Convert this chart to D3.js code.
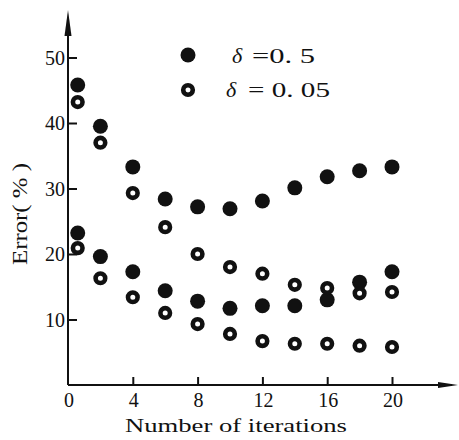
<!DOCTYPE html>
<html><head><meta charset="utf-8">
<script src="https://cdn.jsdelivr.net/npm/d3@7"></script>
<style>body{margin:0;background:#fff}svg{display:block}text{font-family:"Liberation Serif","DejaVu Serif",serif;fill:#111}</style>
</head><body>
<svg id="c" width="459" height="440"></svg>
<script>
const iterations = [0.6, 2, 4, 6, 8, 10, 12, 14, 16, 18, 20];
const filledUpper = [45.8, 39.5, 33.3, 28.4, 27.2, 26.9, 28.1, 30.1, 31.8, 32.7, 33.3];
const filledLower = [23.2, 19.6, 17.3, 14.4, 12.8, 11.7, 12.1, 12.1, 13.0, 15.7, 17.3];
const openUpper = [43.2, 37.0, 29.3, 24.1, 20.0, 18.0, 17.0, 15.3, 14.8, 14.0, 14.2];
const openLower = [20.9, 16.3, 13.4, 11.0, 9.3, 7.8, 6.7, 6.3, 6.3, 6.0, 5.8];
const xTicks = [0, 4, 8, 12, 16, 20];
const yTicks = [10, 20, 30, 40, 50];
const legendValues = ["=0. 5", "= 0. 05"];

const svg = d3.select("#c");
const x = d3.scaleLinear().domain([0, 20]).range([68, 392]);
const y = d3.scaleLinear().domain([0, 50]).range([385, 57.5]);
const ink = "#111";

// axes lines
svg.append("line").attr("x1", x(0)).attr("x2", 452).attr("y1", y(0)).attr("y2", y(0)).attr("stroke", ink).attr("stroke-width", 2);
svg.append("path").attr("d", `M458,${y(0)} L438,${y(0)-3} L438,${y(0)+3} Z`).attr("fill", ink);
svg.append("line").attr("x1", x(0)).attr("x2", x(0)).attr("y1", y(0)).attr("y2", 20).attr("stroke", ink).attr("stroke-width", 2);
svg.append("path").attr("d", `M${x(0)},10 L${x(0)-3.5},36 L${x(0)+3.5},36 Z`).attr("fill", ink);

// y ticks
const yAxis = d3.axisRight(y).tickValues(yTicks).tickSize(9).tickFormat("");
const gy = svg.append("g").attr("transform", `translate(${x(0)},0)`).call(yAxis);
gy.select(".domain").remove();
gy.selectAll("line").attr("stroke", ink).attr("stroke-width", 2);
svg.selectAll(".ylab").data(yTicks).enter().append("text")
  .attr("x", 65).attr("y", d => y(d) + 7).attr("text-anchor", "end").attr("font-size", 20).text(d => d);

// x ticks
const xAxis = d3.axisTop(x).tickValues(xTicks.filter(d => d > 0)).tickSize(8).tickFormat("");
const gx = svg.append("g").attr("transform", `translate(0,${y(0)})`).call(xAxis);
gx.select(".domain").remove();
gx.selectAll("line").attr("stroke", ink).attr("stroke-width", 2);
svg.selectAll(".xlab").data(xTicks).enter().append("text")
  .attr("x", d => x(d) + 1).attr("y", 407).attr("text-anchor", "middle").attr("font-size", 20).text(d => d);

// axis titles
svg.append("text").attr("x", 125).attr("y", 432).attr("font-size", 19).attr("textLength", 222)
  .attr("lengthAdjust", "spacingAndGlyphs").text("Number of iterations");
svg.append("text").attr("transform", "translate(27,163) rotate(-90)").attr("text-anchor", "end")
  .attr("font-size", 20).attr("textLength", 102).attr("lengthAdjust", "spacingAndGlyphs").text("Error( % )");

// points
function filled(vals) {
  svg.append("g").selectAll("circle").data(vals).enter().append("circle")
    .attr("cx", (d, i) => x(iterations[i])).attr("cy", d => y(d)).attr("r", 7.5).attr("fill", ink);
}
function open(vals) {
  svg.append("g").selectAll("circle").data(vals).enter().append("circle")
    .attr("cx", (d, i) => x(iterations[i])).attr("cy", d => y(d)).attr("r", 4.8)
    .attr("fill", "#fff").attr("stroke", ink).attr("stroke-width", 4.6);
}
filled(filledUpper); filled(filledLower);
open(openUpper); open(openLower);

// legend
svg.append("circle").attr("cx", 188).attr("cy", 55).attr("r", 7.5).attr("fill", ink);
svg.append("circle").attr("cx", 188).attr("cy", 90).attr("r", 4.8).attr("fill", "#fff").attr("stroke", ink).attr("stroke-width", 4.6);
const l1 = svg.append("text").attr("x", 232).attr("y", 63).attr("font-size", 22);
l1.append("tspan").attr("font-style", "italic").text("δ");
l1.append("tspan").attr("x", 252).attr("textLength", 63).attr("lengthAdjust", "spacingAndGlyphs").text(legendValues[0]);
const l2 = svg.append("text").attr("x", 226).attr("y", 97).attr("font-size", 22);
l2.append("tspan").attr("font-style", "italic").text("δ");
l2.append("tspan").attr("x", 248).attr("textLength", 82).attr("lengthAdjust", "spacingAndGlyphs").text(legendValues[1]);
</script>
</body></html>
